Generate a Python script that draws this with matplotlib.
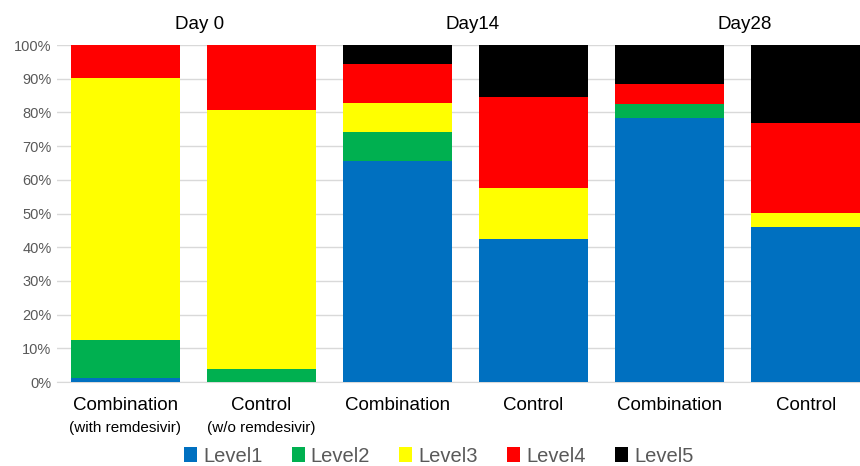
import numpy as np
import matplotlib.pyplot as plt
from matplotlib.transforms import blended_transform_factory

plt.rcParams['font.family'] = ['Liberation Sans', 'DejaVu Sans']

# share of patients at each level (%), one entry per bar
groups = ['Combination', 'Control', 'Combination', 'Control', 'Combination', 'Control']
sublabels = ['(with remdesivir)', '(w/o remdesivir)', '', '', '', '']
days = ['Day 0', 'Day14', 'Day28']
level1 = [1.3, 0.0, 65.7, 42.3, 78.2, 46.1]
level2 = [11.2, 3.8, 8.6, 0.0, 4.4, 0.0]
level3 = [77.8, 76.9, 8.6, 15.4, 0.0, 4.0]
level4 = [9.7, 19.3, 11.5, 27.0, 5.8, 26.8]
level5 = [0.0, 0.0, 5.6, 15.3, 11.6, 23.1]

levels = [level1, level2, level3, level4, level5]
names = ['Level1', 'Level2', 'Level3', 'Level4', 'Level5']
colors = ['#0070C0', '#00B050', '#FFFF00', '#FF0000', '#000000']

fig = plt.figure(figsize=(8.6, 4.66), dpi=100)
# right edge of the plot area runs past the figure, so the last bar is cut
ax = fig.add_axes([57 / 860, (466 - 382) / 466, 817 / 860, 337 / 466])

x = np.arange(len(groups))
bottom = np.zeros(len(groups))
for vals, name, col in zip(levels, names, colors):
    ax.bar(x, vals, width=0.8, bottom=bottom, color=col, label=name,
           edgecolor='none', zorder=3)
    bottom += np.array(vals)

ax.set_xlim(-0.5, len(groups) - 0.5)
ax.set_ylim(0, 100)
ax.set_yticks(np.arange(0, 101, 10))
ax.set_yticklabels([f'{v}%' for v in range(0, 101, 10)], color='#595959', fontsize=10.5)
ax.yaxis.grid(True, color='#D9D9D9', linewidth=1, zorder=0)
ax.tick_params(axis='y', length=0, pad=4)
ax.set_xticks([])
for side in ['top', 'right', 'left']:
    ax.spines[side].set_visible(False)
ax.spines['bottom'].set_color('#D9D9D9')
ax.spines['bottom'].set_zorder(0)

trans = blended_transform_factory(ax.transData, ax.transAxes)
for i, (g, s) in enumerate(zip(groups, sublabels)):
    ax.text(i, -0.045, g, transform=trans, ha='center', va='top', fontsize=13.5)
    if s:
        ax.text(i, -0.115, s, transform=trans, ha='center', va='top', fontsize=11)

for k, d in enumerate(days):
    ax.text(2 * k + 0.55, 1.035, d, transform=trans, ha='center', va='bottom', fontsize=13.5)

fig.legend(loc='center', bbox_to_anchor=(0.51, 1 - 456 / 466), bbox_transform=fig.transFigure,
           ncol=5, frameon=False, fontsize=14.5, handlelength=0.65, handleheight=0.7,
           handletextpad=0.3, columnspacing=1.45, labelcolor='#595959')

fig.savefig('out.png', dpi=100)
